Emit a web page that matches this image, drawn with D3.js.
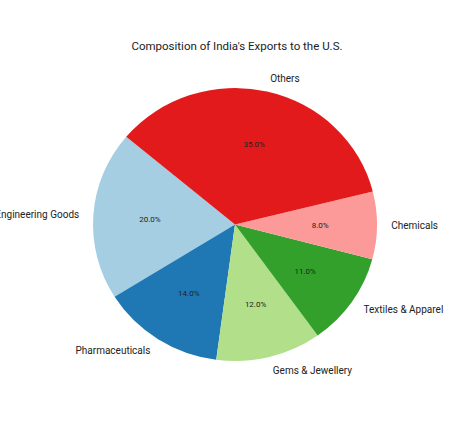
<!DOCTYPE html>
<html><head><meta charset="utf-8">
<script src="https://cdn.jsdelivr.net/npm/d3@7"></script>
<style>body{margin:0;background:#fff}svg{display:block}text{font-family:Roboto,"Open Sans",sans-serif;fill:#222}</style>
</head><body>
<script>
const categories = ["Engineering Goods","Pharmaceuticals","Gems & Jewellery","Textiles & Apparel","Chemicals","Others"];
const values = [20,14,12,11,8,35];
const colors = ["#a6cee3","#1f78b4","#b2df8a","#33a02c","#fb9a99","#e31a1c"];
const title = "Composition of India's Exports to the U.S.";

const W=461,H=445, cx=235, cy=224.5, rx=142, ry=136.5;
const startDeg=140;
const svg=d3.select("body").append("svg").attr("width",W).attr("height",H);
svg.append("text").attr("x",237).attr("y",50).attr("text-anchor","middle").style("font-size","11.5px").text(title);

const total=d3.sum(values);
const pie=d3.pie().sort(null).value(d=>d)
  .startAngle(Math.PI/2 - startDeg*Math.PI/180)
  .endAngle(Math.PI/2 - startDeg*Math.PI/180 - 2*Math.PI);
const arcs=pie(values);
const arc=d3.arc().innerRadius(0).outerRadius(rx);
const g=svg.append("g").attr("transform",`translate(${cx},${cy}) scale(1,${ry/rx})`);
g.selectAll("path").data(arcs).join("path").attr("d",arc).attr("fill",(d,i)=>colors[i]);

arcs.forEach((d,i)=>{
  const mid=(d.startAngle+d.endAngle)/2;
  const sx=Math.sin(mid), sy=-Math.cos(mid);
  const lx=cx+1.1*rx*sx, ly=cy+1.1*ry*sy;
  svg.append("text").attr("x",lx).attr("y",ly).attr("dy","0.35em")
    .attr("text-anchor", sx>=0?"start":"end").style("font-size","10px").text(categories[i]);
  const px=cx+0.6*rx*sx, py=cy+0.6*ry*sy;
  svg.append("text").attr("x",px).attr("y",py).attr("dy","0.35em")
    .attr("text-anchor","middle").style("font-size","8px").text((values[i]/total*100).toFixed(1)+"%");
});
</script>
</body></html>
